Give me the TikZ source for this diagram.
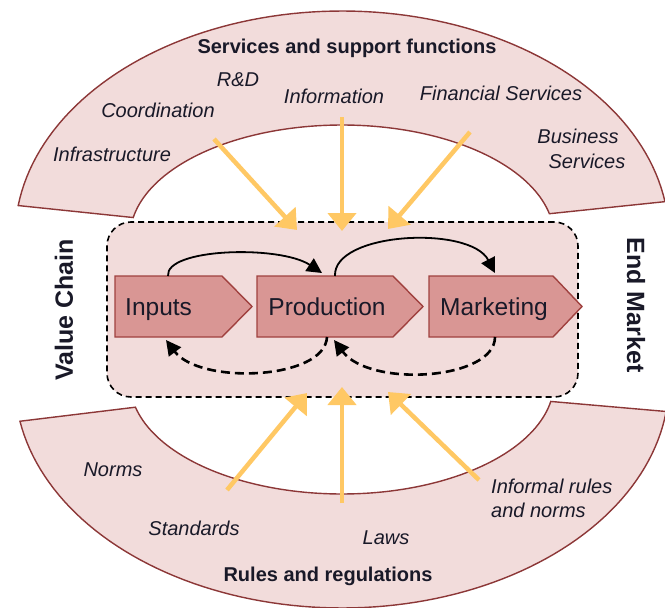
\documentclass[tikz,border=0pt]{standalone}
\usepackage{fontspec}
\setmainfont{Liberation Sans}
\usetikzlibrary{arrows.meta}
\definecolor{arcfill}{RGB}{242,220,219}
\definecolor{arcline}{RGB}{140,55,55}
\definecolor{chevfill}{RGB}{217,150,148}
\definecolor{chevline}{RGB}{160,65,63}
\definecolor{ylw}{RGB}{255,200,100}
\definecolor{txt}{RGB}{25,25,40}
\begin{document}
\begin{tikzpicture}[x=1pt,y=-1pt,
  band/.style={fill=arcfill,draw=arcline,line width=1.4pt},
  chev/.style={fill=chevfill,draw=chevline,line width=1.4pt},
  lbl/.style={font=\fontsize{20}{24}\selectfont\itshape, text=txt, inner sep=0pt, text height=14.3pt, text depth=0pt},
  ttl/.style={font=\fontsize{20}{24}\selectfont\bfseries, text=txt, inner sep=0pt, text height=14.3pt, text depth=0pt},
  side/.style={font=\fontsize{25}{30}\selectfont\bfseries, text=txt, inner sep=0pt, text height=17.9pt, text depth=0pt},
  chevtxt/.style={font=\fontsize{24.5}{29}\selectfont, text=txt, inner sep=0pt, text height=17.5pt, text depth=0pt},
  flow/.style={line width=1.8pt, -{Triangle[length=15pt,width=15pt]}},
  back/.style={line width=2.6pt, dash pattern=on 9pt off 5pt, -{Triangle[length=15pt,width=15pt]}},
  push/.style={draw=ylw, line width=4.5pt, -{Triangle[length=18pt,width=28pt]}}]
\useasboundingbox (0,0) rectangle (665,608);

% top band: services and support functions
\path[band] plot[domain=172:9,samples=90,variable=\t] ({342+327*cos(\t)},{237-226*sin(\t)})
  -- plot[domain=12:170,samples=90,variable=\t] ({342+212*cos(\t)},{237-112*sin(\t)}) -- cycle;
% bottom band: rules and regulations
\path[band] plot[domain=190:352.5,samples=90,variable=\t] ({342+327*cos(\t)},{382-226*sin(\t)})
  -- plot[domain=350:193,samples=90,variable=\t] ({342+212*cos(\t)},{382-112*sin(\t)}) -- cycle;

% value chain box
\node[draw=black, dash pattern=on 6pt off 4pt, line width=1.6pt, fill=arcfill,
  rounded corners=24pt, minimum width=471pt, minimum height=175pt, inner sep=0pt] (vc) at (342.5,309.5) {};

% chevrons
\path[chev] (115,276) -- (222,276) -- (252,306.5) -- (222,337) -- (115,337) -- cycle;
\path[chev] (257,276) -- (393,276) -- (423,306.5) -- (393,337) -- (257,337) -- cycle;
\path[chev] (429,276) -- (553,276) -- (582,306.5) -- (553,337) -- (429,337) -- cycle;
\node[chevtxt, anchor=west] (inp) at (125,306.5) {Inputs};
\node[chevtxt] (prod) at (327,306.5) {Production};
\node[chevtxt] (mkt) at (494,306.5) {Marketing};

% arrow end points on the chevrons
\coordinate (inpTop) at (168,276);
\coordinate (prodTopIn) at (322,273);
\coordinate (prodTopOut) at (335,276);
\coordinate (mktTop) at (495,273);
\coordinate (prodBotOut) at (327,337);
\coordinate (inpBot) at (166,340);
\coordinate (mktBot) at (495,337);
\coordinate (prodBotIn) at (334,340);

\draw[flow] (inpTop) .. controls (165,248) and (280,245) .. (prodTopIn);
\draw[flow] (prodTopOut) .. controls (333,232) and (470,225) .. (mktTop);
\draw[back] (prodBotOut) .. controls (325,380) and (200,385) .. (inpBot);
\draw[back] (mktBot) .. controls (495,380) and (370,388) .. (prodBotIn);

% yellow influence arrows
\coordinate (s1) at (214,139); \coordinate (t1) at (297,230);
\coordinate (s2) at (342,117); \coordinate (t2) at (342,231);
\coordinate (s3) at (470,132); \coordinate (t3) at (388,229);
\coordinate (s4) at (227,490); \coordinate (t4) at (307,393);
\coordinate (s5) at (342,503); \coordinate (t5) at (342,387);
\coordinate (s6) at (479,480); \coordinate (t6) at (388,392);
\draw[push] (s1) -- (t1);
\draw[push] (s2) -- (t2);
\draw[push] (s3) -- (t3);
\draw[push] (s4) -- (t4);
\draw[push] (s5) -- (t5);
\draw[push] (s6) -- (t6);

% labels top
\node[ttl] (svc) at (347,46.5) {Services and support functions};
\node[lbl] (rd) at (238,79) {R\&D};
\node[lbl] (coord) at (158,110.5) {Coordination};
\node[lbl] (infra) at (112,154.5) {Infrastructure};
\node[lbl] (info) at (334,96) {Information};
\node[lbl] (fin) at (501,93) {Financial Services};
\node[lbl] (bus1) at (578,136) {Business};
\node[lbl] (bus2) at (587,161) {Services};

% labels bottom
\node[lbl] (norms) at (113,469.5) {Norms};
\node[lbl] (std) at (194,528) {Standards};
\node[lbl] (laws) at (386,537) {Laws};
\node[lbl, anchor=west] (inf1) at (491,486) {Informal rules};
\node[lbl, anchor=west] (inf2) at (491,510) {and norms};
\node[ttl] (rules) at (328,574) {Rules and regulations};

% side labels
\node[side, rotate=90] (vch) at (64,310) {Value Chain};
\node[side, rotate=-90] (em) at (636,305) {End Market};
\end{tikzpicture}
\end{document}
